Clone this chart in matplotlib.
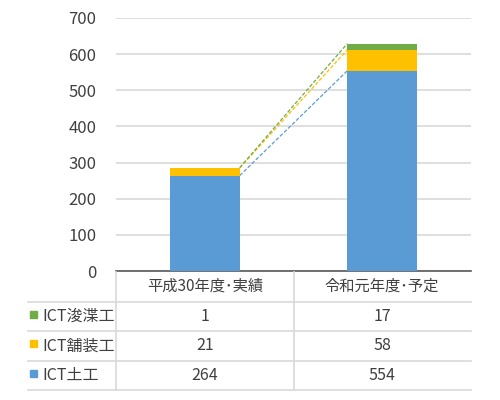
import numpy as np
import matplotlib.pyplot as plt
from matplotlib.lines import Line2D

plt.rcParams['font.family'] = ['Noto Sans CJK JP', 'DejaVu Sans']

categories = ['平成30年度･実績', '令和元年度･予定']
series_names = ['ICT浚渫工', 'ICT舗装工', 'ICT土工']
dredge = [1, 17]
paving = [21, 58]
earth = [264, 554]
colors = {'ICT土工': '#5B9BD5', 'ICT舗装工': '#FFC000', 'ICT浚渫工': '#70AD47'}
yticks = [0, 100, 200, 300, 400, 500, 600, 700]

txt = '#404040'
fig = plt.figure(figsize=(5, 4), dpi=100)
ax = fig.add_axes([116/500, 1-271/400, (471-116)/500, (271-18)/400])

x = np.arange(len(categories))
w = 0.394
stack = [('ICT土工', earth), ('ICT舗装工', paving), ('ICT浚渫工', dredge)]
bottom = np.zeros(len(categories))
for name, vals in stack:
    vals = np.array(vals, dtype=float)
    ax.bar(x, vals, w, bottom=bottom, color=colors[name], zorder=3)
    top = bottom + vals
    ax.plot([x[0] + w/2, x[1] - w/2], [top[0], top[1]], ls=(0, (3, 1.5)),
            lw=0.9, color=colors[name], zorder=2)
    bottom = top

ax.set_xlim(-0.5, 1.5)
ax.set_ylim(0, 700)
ax.set_yticks(yticks)
ax.set_xticks([])
ax.grid(axis='y', color='#D9D9D9', lw=1.2, zorder=0)
for s in ['top', 'right', 'left']:
    ax.spines[s].set_visible(False)
ax.spines['bottom'].set_color('#595959')
ax.spines['bottom'].set_linewidth(1.2)
ax.tick_params(axis='y', length=0, labelsize=12, labelcolor=txt, pad=14)

# data table below the chart (pixel coordinates)
tb = fig.add_axes([0, 0, 1, 1-271/400])
tb.set_xlim(0, 500)
tb.set_ylim(400, 271)
tb.axis('off')
lc = '#D9D9D9'
col_c = [205, 382]
for yy in [302, 331, 361, 390]:
    tb.add_line(Line2D([28, 471], [yy, yy], color=lc, lw=1.2))
for xx in [116, 294]:
    tb.add_line(Line2D([xx, xx], [272, 390], color=lc, lw=1.2))
for c, cat in zip(col_c, categories):
    tb.text(c, 286, cat, ha='center', va='center', fontsize=11, color=txt)
rows = [dredge, paving, earth]
row_y = [316.5, 346, 375.5]
for name, vals, ry in zip(series_names, rows, row_y):
    tb.add_patch(plt.Rectangle((30, ry - 6), 7, 7, color=colors[name]))
    tb.text(42, ry, name, ha='left', va='center', fontsize=11.5, color=txt)
    for c, v in zip(col_c, vals):
        tb.text(c, ry, str(v), ha='center', va='center', fontsize=11.5, color=txt)

fig.savefig('out.png', dpi=100)
